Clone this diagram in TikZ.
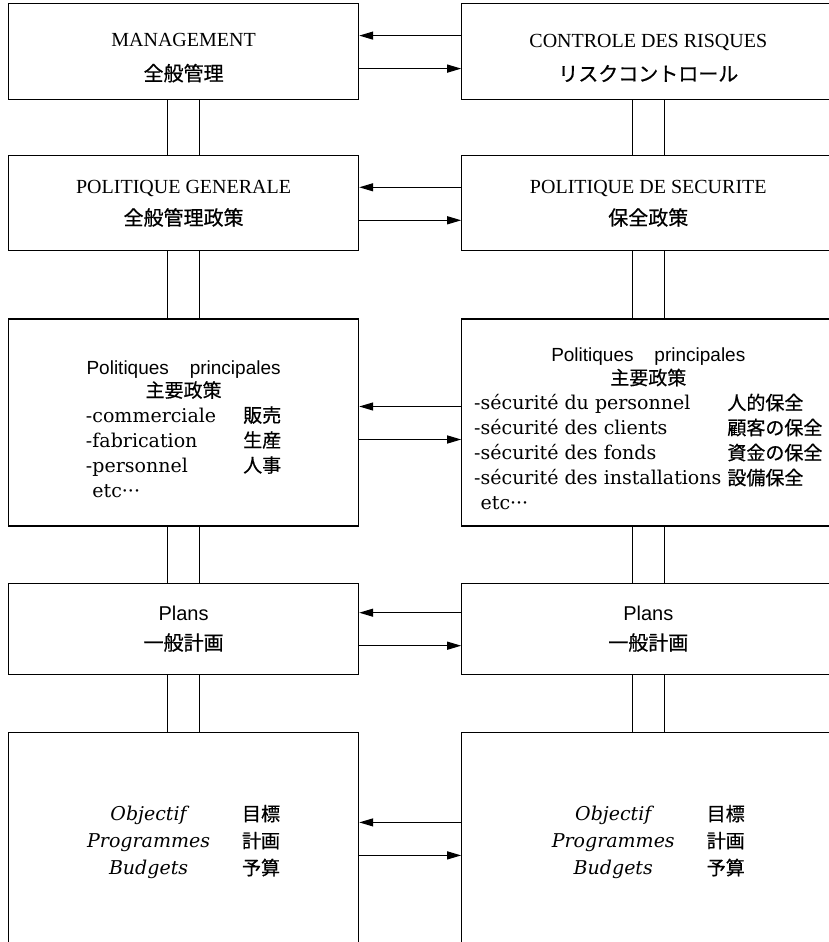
\documentclass[tikz,border=0pt]{standalone}
\usepackage{fontspec}
\setmainfont{Liberation Serif}
\setsansfont{Liberation Sans}
\newfontfamily\jpfont[FakeBold=0.6]{Noto Sans CJK JP}
\newfontfamily\listfont{DejaVu Serif}
\newcommand{\jp}[1]{{\jpfont #1}}
\usetikzlibrary{arrows.meta, positioning}
\tikzset{
  every picture/.style={line width=1.2pt},
  box/.style={draw, minimum width=350pt, minimum height=#1, inner sep=0pt, align=center,
    font=\fontsize{20}{26}\selectfont},
  rbox/.style={box=#1, minimum width=373pt},
  arrow/.style={-{Triangle[length=14pt, width=8pt]}, line width=1.2pt},
}

\begin{document}
\begin{tikzpicture}[x=1pt, y=1pt]
  \useasboundingbox (0,0) rectangle (828,-942);
  % left column
  \node[box=96pt, anchor=north west] (mgmt) at (8,-3) {\rule{0pt}{26pt}MANAGEMENT\\[8pt]\jp{全般管理}};
  \node[box=95pt, below=55pt of mgmt] (polgen) {POLITIQUE GENERALE\\[6pt]\jp{全般管理政策}};
  \node[box=207pt, below=67pt of polgen, font=\fontsize{19}{25}\selectfont] (mainl) {%
    {\sffamily\rule{0pt}{34pt}Politiques\hspace{1.1em}principales}\\[-2pt]\jp{主要政策}\\
    {\listfont\begin{tabular}[t]{@{}l@{\hspace{27pt}}l@{}}
      -commerciale & \jp{販売}\\
      -fabrication & \jp{生産}\\
      -personnel & \jp{人事}\\
      \phantom{-}etc··· &
    \end{tabular}}};
  \node[box=91pt, below=56pt of mainl] (plansl) {{\sffamily Plans}\\[4pt]\jp{一般計画}};
  \node[box=220pt, below=57pt of plansl, font=\fontsize{19}{27}\selectfont] (objl) {%
    {\listfont\begin{tabular}{@{}c@{\hspace{32pt}}l@{}}
      \itshape Objectif & \jp{目標}\\
      \itshape Programmes & \jp{計画}\\
      \itshape Budgets & \jp{予算}
    \end{tabular}}};
  % right column
  \node[rbox=96pt, right=102pt of mgmt] (risk) {\rule{0pt}{26pt}CONTROLE DES RISQUES\\[8pt]\jp{リスクコントロール}};
  \node[rbox=95pt, right=102pt of polgen] (polsec) {POLITIQUE DE SECURITE\\[6pt]\jp{保全政策}};
  \node[rbox=207pt, right=102pt of mainl, font=\fontsize{19}{25}\selectfont] (mainr) {%
    {\sffamily\rule{0pt}{34pt}Politiques\hspace{1.1em}principales}\\[-2pt]\jp{主要政策}\\
    {\listfont\begin{tabular}[t]{@{}l@{\hspace{6pt}}l@{}}
      -sécurité du personnel & \jp{人的保全}\\
      -sécurité des clients & \jp{顧客の保全}\\
      -sécurité des fonds & \jp{資金の保全}\\
      -sécurité des installations & \jp{設備保全}\\
      \phantom{-}etc··· &
    \end{tabular}}};
  \node[rbox=91pt, right=102pt of plansl] (plansr) {{\sffamily Plans}\\[4pt]\jp{一般計画}};
  \node[rbox=220pt, right=102pt of objl, font=\fontsize{19}{27}\selectfont] (objr) {%
    {\listfont\begin{tabular}{@{}c@{\hspace{32pt}}l@{}}
      \itshape Objectif & \jp{目標}\\
      \itshape Programmes & \jp{計画}\\
      \itshape Budgets & \jp{予算}
    \end{tabular}}};
  % double links down each column
  \foreach \a/\b in {mgmt/polgen, polgen/mainl, mainl/plansl, plansl/objl,
                     risk/polsec, polsec/mainr, mainr/plansr, plansr/objr}
    \foreach \dx in {-16,16}
      \draw ([xshift=\dx pt]\a.south) -- ([xshift=\dx pt]\b.north);
  % exchanges between columns
  \foreach \l/\r in {mgmt/risk, polgen/polsec, mainl/mainr, plansl/plansr} {
    \draw[arrow] ([yshift=16pt]\r.west) -- ([yshift=16pt]\l.east);
    \draw[arrow] ([yshift=-17pt]\l.east) -- ([yshift=-17pt]\r.west);
  }
  \draw[arrow] ([yshift=20pt]objr.west) -- ([yshift=20pt]objl.east);
  \draw[arrow] ([yshift=-13pt]objl.east) -- ([yshift=-13pt]objr.west);
\end{tikzpicture}
\end{document}
